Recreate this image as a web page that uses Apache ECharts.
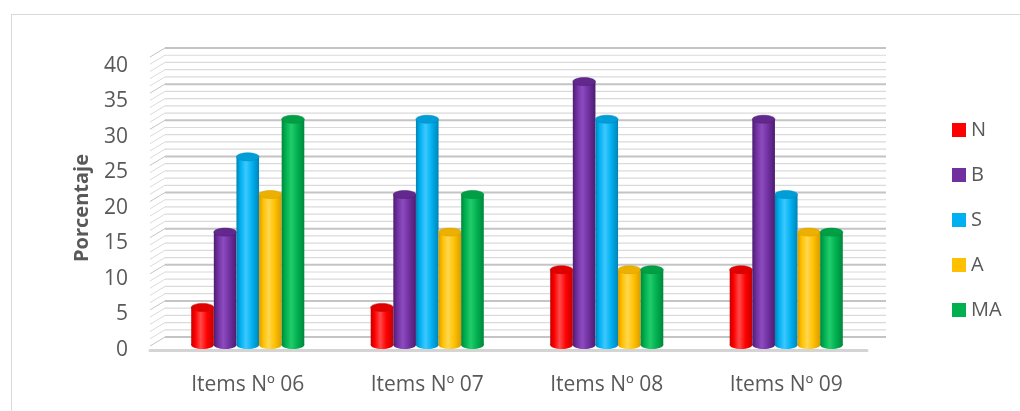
<!DOCTYPE html>
<html>
<head>
<meta charset="utf-8">
<script src="https://cdn.jsdelivr.net/npm/echarts@6/dist/echarts.min.js"></script>
<style>
  html, body { margin: 0; padding: 0; background: #ffffff; }
  #wrap { position: relative; width: 1020px; height: 411px; overflow: hidden; background: #ffffff; }
  #chart { position: absolute; left: 0; top: 0; width: 1020px; height: 411px; }
  #frame { position: absolute; left: 11px; top: 14px; width: 1030px; height: 420px;
           border: 1px solid #d9d9d9; pointer-events: none; }
</style>
</head>
<body>
<div id="wrap">
  <div id="chart"></div>
  <div id="frame"></div>
</div>
<script>
// Survey results per item, percentage of respondents for each rating level
const categories = ['Items Nº 06', 'Items Nº 07', 'Items Nº 08', 'Items Nº 09'];
const seriesNames = ['N', 'B', 'S', 'A', 'MA'];
const valuesN  = [5.26, 5.26, 10.53, 10.53];
const valuesB  = [15.79, 21.05, 36.84, 31.58];
const valuesS  = [26.32, 31.58, 31.58, 21.05];
const valuesA  = [21.05, 15.79, 10.53, 15.79];
const valuesMA = [31.58, 21.05, 10.53, 15.79];
const yTicks = { min: 0, max: 40, interval: 5 };

const seriesValues = [valuesN, valuesB, valuesS, valuesA, valuesMA];

// Cylinder shading: edge, highlight, body, cap
const palette = [
  { base: '#ff0000', dark: '#c40000', light: '#ff4a4a', cap: '#e00000' },
  { base: '#7030a0', dark: '#4c1d70', light: '#8c4cbf', cap: '#62288e' },
  { base: '#00b0f0', dark: '#0084b6', light: '#3cc8ff', cap: '#009ed8' },
  { base: '#ffc000', dark: '#d79c00', light: '#ffd84f', cap: '#ebb000' },
  { base: '#00b050', dark: '#00873b', light: '#22cc6b', cap: '#009f46' }
];

const GROUP_RATIO = 0.63;
const CAP_RY = 4;

function bodyFill(p) {
  return {
    type: 'linear', x: 0, y: 0, x2: 1, y2: 0,
    colorStops: [
      { offset: 0, color: p.dark },
      { offset: 0.18, color: p.base },
      { offset: 0.42, color: p.light },
      { offset: 0.7, color: p.base },
      { offset: 1, color: p.dark }
    ]
  };
}

function makeCylinder(idx) {
  const p = palette[idx];
  return function (params, api) {
    const cat = api.value(0);
    const val = api.value(1);
    const top = api.coord([cat, val]);
    const base = api.coord([cat, 0]);
    const band = api.size([1, 0])[0];
    const groupW = band * GROUP_RATIO;
    const w = groupW / seriesNames.length;
    const x = top[0] - groupW / 2 + idx * w;
    const cx = x + w / 2;
    return {
      type: 'group',
      children: [
        { type: 'ellipse', shape: { cx: cx, cy: base[1], rx: w / 2, ry: CAP_RY },
          style: { fill: bodyFill(p) } },
        { type: 'rect', shape: { x: x, y: top[1], width: w, height: base[1] - top[1] },
          style: { fill: bodyFill(p) } },
        { type: 'ellipse', shape: { cx: cx, cy: top[1], rx: w / 2, ry: CAP_RY },
          style: { fill: p.cap, stroke: p.dark, lineWidth: 0.5 } }
      ]
    };
  };
}

// Back wall levels: one line per unit of the value axis
const wallLevels = [];
for (let v = yTicks.min; v <= yTicks.max; v += 1) wallLevels.push([0, v]);

function renderWall(params, api) {
  const v = api.value(1);
  const y = api.coord([0, v])[1];
  const cs = params.coordSys;
  const major = v % yTicks.interval === 0;
  const col = major ? '#c4c4c4' : '#dadada';
  return {
    type: 'group',
    children: [
      { type: 'line', shape: { x1: cs.x, y1: y, x2: cs.x + cs.width, y2: y },
        style: { stroke: col, lineWidth: major ? 2 : 1.2 } },
      { type: 'line', shape: { x1: cs.x, y1: y, x2: cs.x - 15, y2: y + 9 },
        style: { stroke: col, lineWidth: 1 } }
    ]
  };
}

const chart = echarts.init(document.getElementById('chart'), null, { renderer: 'canvas' });
const font = '"Open Sans", "Noto Sans", sans-serif';

const series = [{
  name: 'wall',
  type: 'custom',
  xAxisIndex: 1,
  yAxisIndex: 1,
  renderItem: renderWall,
  data: wallLevels,
  silent: true,
  z: 1
}];
seriesNames.forEach(function (name, i) {
  series.push({
    name: name,
    type: 'custom',
    xAxisIndex: 2,
    yAxisIndex: 2,
    renderItem: makeCylinder(i),
    itemStyle: { color: palette[i].base },
    data: seriesValues[i].map(function (v, c) { return [c, v]; }),
    encode: { x: 0, y: 1 },
    z: 3
  });
});

chart.setOption({
  animation: false,
  backgroundColor: 'transparent',
  textStyle: { fontFamily: font },
  grid: [
    // value labels and floor
    { left: 150, right: 153, top: 66, bottom: 61 },
    // back wall
    { left: 165, right: 134, top: 48, bottom: 74 },
    // cylinders
    { left: 158, right: 144, top: 59, bottom: 66 }
  ],
  legend: {
    orient: 'vertical',
    left: 947,
    top: 115,
    itemWidth: 14,
    itemHeight: 14,
    itemGap: 25,
    icon: 'rect',
    data: seriesNames,
    textStyle: { fontSize: 20, color: '#595959', fontFamily: font }
  },
  xAxis: [
    {
      type: 'category',
      gridIndex: 0,
      data: categories,
      offset: 2,
      axisLine: { show: true, lineStyle: { color: '#d4d4d4', width: 3 } },
      axisTick: { show: false },
      axisLabel: { show: false },
      splitLine: { show: false }
    },
    {
      type: 'value',
      gridIndex: 1,
      min: 0, max: 1,
      show: false
    },
    {
      type: 'category',
      gridIndex: 2,
      data: categories,
      axisLine: { show: false },
      axisTick: { show: false },
      axisLabel: { fontSize: 21, color: '#595959', margin: 30, fontFamily: font },
      splitLine: { show: false }
    }
  ],
  yAxis: [
    {
      type: 'value',
      gridIndex: 0,
      min: yTicks.min,
      max: yTicks.max,
      interval: yTicks.interval,
      name: 'Porcentaje',
      nameLocation: 'middle',
      nameGap: 58,
      nameRotate: 90,
      nameTextStyle: { fontSize: 20, fontWeight: 'bold', color: '#595959', fontFamily: font },
      axisLine: { show: false },
      axisTick: { show: false },
      splitLine: { show: false },
      axisLabel: { fontSize: 21, color: '#595959', margin: 22, fontFamily: font }
    },
    {
      type: 'value',
      gridIndex: 1,
      min: yTicks.min,
      max: yTicks.max,
      show: false
    },
    {
      type: 'value',
      gridIndex: 2,
      min: yTicks.min,
      max: yTicks.max,
      show: false
    }
  ],
  series: series
});
</script>
</body>
</html>
